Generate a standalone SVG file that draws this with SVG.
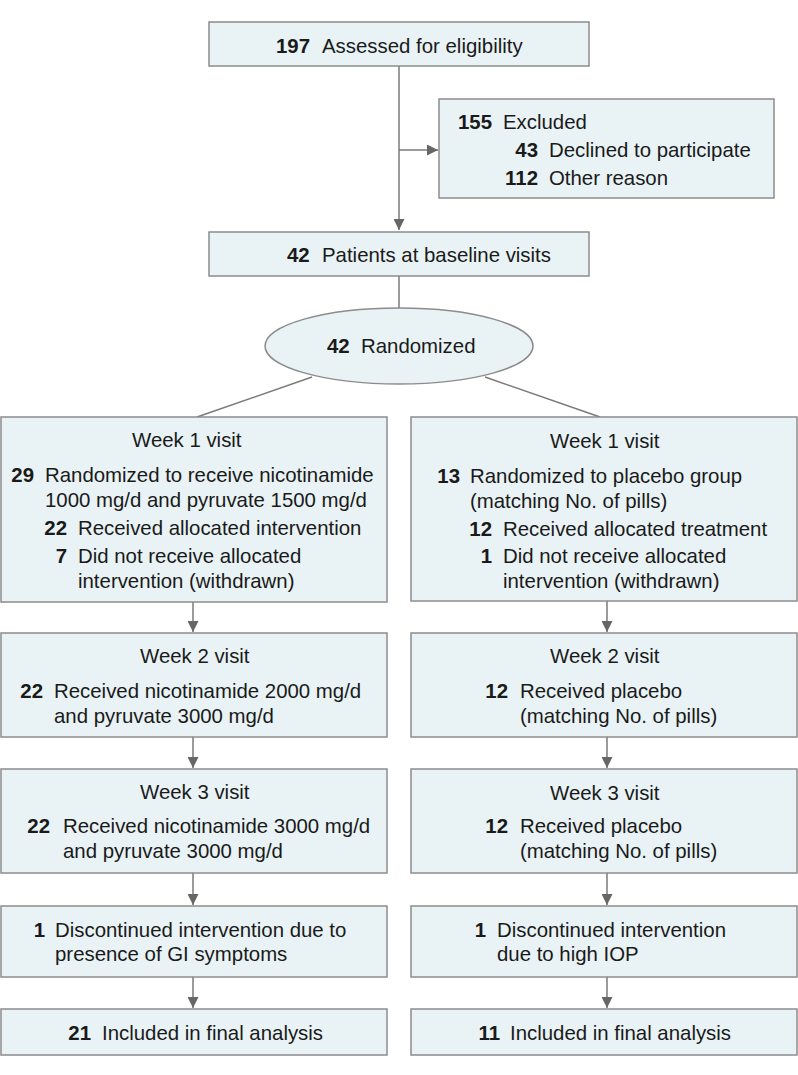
<svg xmlns="http://www.w3.org/2000/svg" width="798" height="1075" viewBox="0 0 798 1075">
<style>
  .box { fill: #e9f3f5; stroke: #8c8c8c; stroke-width: 1.5; }
  .ln { fill: none; stroke: #7a7a7a; stroke-width: 1.5; }
  text { font-family: "Liberation Sans", Arial, sans-serif; font-size: 20.4px; fill: #1a1a1a; }
  .b { font-weight: bold; }
  .e { text-anchor: end; }
</style>
<defs>
  <marker id="arr" viewBox="0 0 10 10" refX="10" refY="5" markerWidth="11" markerHeight="11" markerUnits="userSpaceOnUse" orient="auto">
    <path d="M0,0 L10,5 L0,10 z" fill="#666"/>
  </marker>
</defs>
<rect width="798" height="1075" fill="#ffffff"/>

<g id="connectors">
  <path class="ln" d="M399 66 V230" marker-end="url(#arr)"/>
  <path class="ln" d="M399 150 H438" marker-end="url(#arr)"/>
  <path class="ln" d="M399 276 V308"/>
  <path class="ln" d="M312 377 L197 417"/>
  <path class="ln" d="M485 377 L600 417"/>
  <path class="ln" d="M193 602 V632" marker-end="url(#arr)"/>
  <path class="ln" d="M607 601 V632" marker-end="url(#arr)"/>
  <path class="ln" d="M193 737 V768" marker-end="url(#arr)"/>
  <path class="ln" d="M607 737 V768" marker-end="url(#arr)"/>
  <path class="ln" d="M193 873 V905" marker-end="url(#arr)"/>
  <path class="ln" d="M607 873 V905" marker-end="url(#arr)"/>
  <path class="ln" d="M193 977 V1008" marker-end="url(#arr)"/>
  <path class="ln" d="M607 977 V1008" marker-end="url(#arr)"/>
</g>

<g id="assessed">
  <rect class="box" x="209" y="22" width="380" height="44"/>
  <text y="53"><tspan class="b" x="276">197</tspan><tspan x="322">Assessed for eligibility</tspan></text>
</g>

<g id="excluded">
  <rect class="box" x="439" y="99" width="335" height="99"/>
  <text class="b e" x="492" y="129">155</text>
  <text x="503" y="129">Excluded</text>
  <text class="b e" x="538" y="157">43</text>
  <text x="549" y="157">Declined to participate</text>
  <text class="b e" x="538" y="185">112</text>
  <text x="549" y="185">Other reason</text>
</g>

<g id="baseline">
  <rect class="box" x="209" y="232" width="380" height="44"/>
  <text y="262"><tspan class="b" x="287">42</tspan><tspan x="322">Patients at baseline visits</tspan></text>
</g>

<g id="randomized">
  <ellipse class="box" cx="399" cy="346" rx="134" ry="38"/>
  <text y="353"><tspan class="b" x="327">42</tspan><tspan x="361">Randomized</tspan></text>
</g>

<g id="left-week1">
  <rect class="box" x="1" y="417" width="386" height="185"/>
  <text x="132" y="447">Week 1 visit</text>
  <text class="b e" x="34" y="482">29</text>
  <text x="45" y="482">Randomized to receive nicotinamide</text>
  <text x="45" y="507">1000 mg/d and pyruvate 1500 mg/d</text>
  <text class="b e" x="67" y="535">22</text>
  <text x="78" y="535">Received allocated intervention</text>
  <text class="b e" x="67" y="563">7</text>
  <text x="78" y="563">Did not receive allocated</text>
  <text x="78" y="588">intervention (withdrawn)</text>
</g>

<g id="right-week1">
  <rect class="box" x="411" y="417" width="386" height="184"/>
  <text x="550" y="448">Week 1 visit</text>
  <text class="b e" x="460" y="483">13</text>
  <text x="470" y="483">Randomized to placebo group</text>
  <text x="470" y="508">(matching No. of pills)</text>
  <text class="b e" x="492" y="536">12</text>
  <text x="503" y="536">Received allocated treatment</text>
  <text class="b e" x="492" y="563">1</text>
  <text x="503" y="563">Did not receive allocated</text>
  <text x="503" y="588">intervention (withdrawn)</text>
</g>

<g id="left-week2">
  <rect class="box" x="1" y="633" width="386" height="104"/>
  <text x="140" y="663">Week 2 visit</text>
  <text class="b e" x="43" y="698">22</text>
  <text x="54" y="698">Received nicotinamide 2000 mg/d</text>
  <text x="54" y="723">and pyruvate 3000 mg/d</text>
</g>

<g id="right-week2">
  <rect class="box" x="411" y="633" width="386" height="104"/>
  <text x="550" y="663">Week 2 visit</text>
  <text class="b e" x="508" y="698">12</text>
  <text x="520" y="698">Received placebo</text>
  <text x="520" y="723">(matching No. of pills)</text>
</g>

<g id="left-week3">
  <rect class="box" x="1" y="769" width="386" height="104"/>
  <text x="140" y="799">Week 3 visit</text>
  <text class="b e" x="50" y="833">22</text>
  <text x="63" y="833">Received nicotinamide 3000 mg/d</text>
  <text x="63" y="858">and pyruvate 3000 mg/d</text>
</g>

<g id="right-week3">
  <rect class="box" x="411" y="769" width="386" height="104"/>
  <text x="550" y="800">Week 3 visit</text>
  <text class="b e" x="508" y="833">12</text>
  <text x="520" y="833">Received placebo</text>
  <text x="520" y="858">(matching No. of pills)</text>
</g>

<g id="left-discontinued">
  <rect class="box" x="1" y="906" width="386" height="71"/>
  <text class="b e" x="45" y="937">1</text>
  <text x="55" y="937">Discontinued intervention due to</text>
  <text x="55" y="961">presence of GI symptoms</text>
</g>

<g id="right-discontinued">
  <rect class="box" x="411" y="906" width="386" height="71"/>
  <text class="b e" x="486" y="937">1</text>
  <text x="497" y="937">Discontinued intervention</text>
  <text x="497" y="961">due to high IOP</text>
</g>

<g id="left-final">
  <rect class="box" x="1" y="1009" width="386" height="46"/>
  <text class="b e" x="91" y="1040">21</text>
  <text x="102" y="1040">Included in final analysis</text>
</g>

<g id="right-final">
  <rect class="box" x="411" y="1009" width="386" height="46"/>
  <text class="b e" x="500" y="1040">11</text>
  <text x="510" y="1040">Included in final analysis</text>
</g>
</svg>
